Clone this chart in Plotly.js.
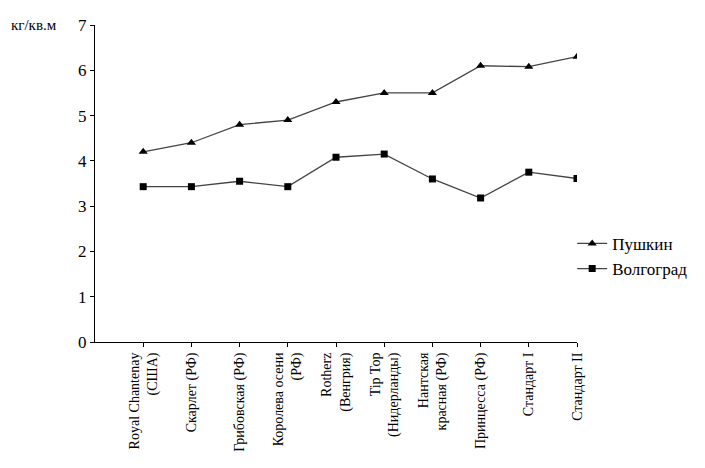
<!DOCTYPE html>
<html>
<head>
<meta charset="utf-8">
<script src="https://cdn.plot.ly/plotly-3.0.1.min.js"></script>
<style>
  html, body { margin: 0; padding: 0; background: #fff; }
  #plot { width: 705px; height: 468px; }
</style>
</head>
<body>
<div id="plot"></div>
<script>
// Сорта томата, урожайность кг/кв.м
const varieties = [
    'Royal Chantenay<br>(США)',
    'Скарлет (РФ)',
    'Грибовская (РФ)',
    'Королева осени<br>(РФ)',
    'Rotherz<br>(Венгрия)',
    'Tip Top<br>(Нидерланды)',
    'Нантская<br>красная (РФ)',
    'Принцесса (РФ)',
    'Стандарт I',
    'Стандарт II',
];
const pushkin = [4.2, 4.4, 4.8, 4.9, 5.3, 5.5, 5.5, 6.1, 6.08, 6.3];
const volgograd = [3.43, 3.43, 3.55, 3.43, 4.08, 4.15, 3.6, 3.18, 3.75, 3.61];
const yTicks = [0, 1, 2, 3, 4, 5, 6, 7];

const xs = varieties.map((v, i) => i);
const serif = 'Liberation Serif, Times New Roman, serif';

const traces = [
    {
        x: xs,
        y: pushkin,
        name: 'Пушкин',
        type: 'scatter',
        mode: 'lines+markers',
        line: { color: '#444', width: 1.3 },
        marker: { symbol: 'triangle-up', size: 8, color: '#000' },
    },
    {
        x: xs,
        y: volgograd,
        name: 'Волгоград',
        type: 'scatter',
        mode: 'lines+markers',
        line: { color: '#444', width: 1.3 },
        marker: { symbol: 'square', size: 7, color: '#000' },
    },
];

Plotly.newPlot('plot', traces, {
    width: 705,
    height: 468,
    margin: { l: 95, r: 123, t: 25, b: 126 },
    paper_bgcolor: '#fff',
    plot_bgcolor: '#fff',
    font: { family: serif, color: '#000' },
    showlegend: true,
    legend: {
        x: 0.99, y: 0.27,
        xanchor: 'left', yanchor: 'middle',
        font: { family: serif, size: 17, color: '#000' },
        bgcolor: 'rgba(0,0,0,0)',
        tracegroupgap: 4,
    },
    xaxis: {
        range: [-1, 9],
        tickmode: 'array',
        tickvals: xs,
        ticktext: varieties,
        tickangle: -90,
        ticks: 'outside',
        ticklen: 4,
        tickcolor: '#000',
        showline: true,
        linecolor: '#000',
        linewidth: 1,
        showgrid: false,
        zeroline: false,
        tickfont: { family: serif, size: 14, color: '#000' },
        fixedrange: true,
    },
    yaxis: {
        range: [0, 7],
        tickmode: 'array',
        tickvals: yTicks,
        ticks: 'outside',
        ticklen: 4,
        tickcolor: '#000',
        showline: true,
        linecolor: '#000',
        linewidth: 1,
        showgrid: false,
        zeroline: false,
        tickfont: { family: serif, size: 17, color: '#000' },
        fixedrange: true,
    },
    annotations: [
        {
            text: 'кг/кв.м',
            xref: 'paper', yref: 'paper',
            x: -0.178, y: 1.0,
            xanchor: 'left', yanchor: 'middle',
            showarrow: false,
            font: { family: serif, size: 15, color: '#000' },
        },
    ],
}, { displayModeBar: false, staticPlot: true });
</script>
</body>
</html>
